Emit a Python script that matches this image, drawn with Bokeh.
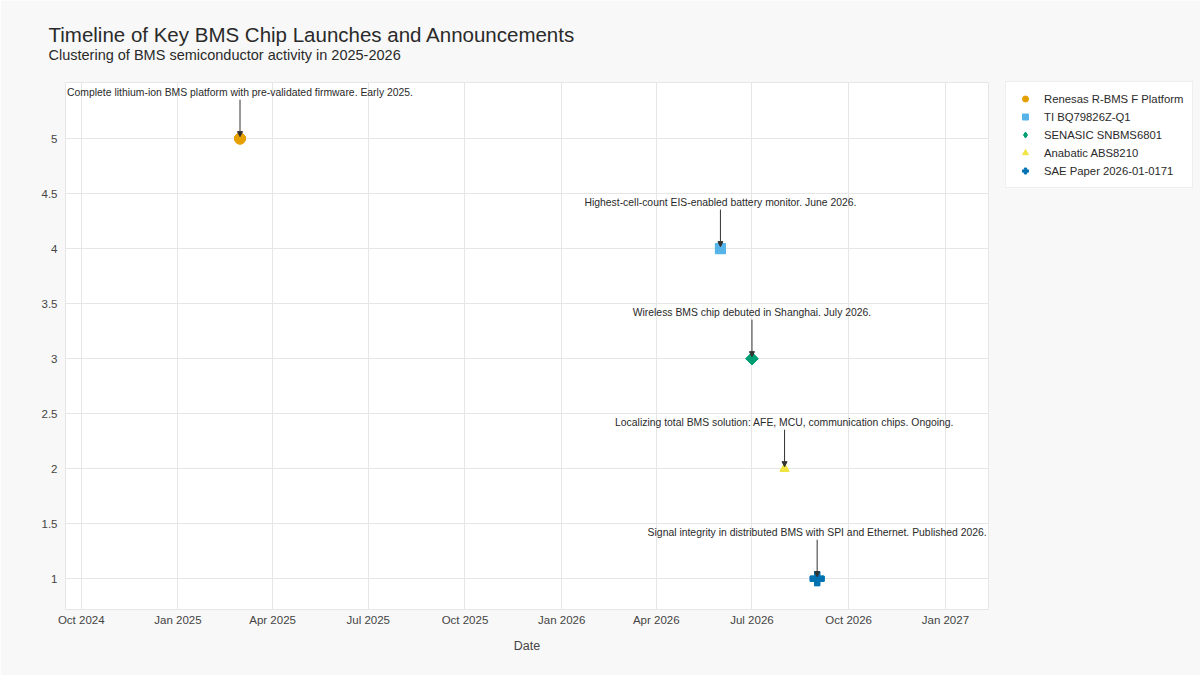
import math
import pandas as pd
from bokeh.plotting import figure
from bokeh.models import (Range1d, Title, Legend, LegendItem, Arrow, NormalHead,
                          DatetimeTickFormatter, MonthsTicker, FixedTicker,
                          NumeralTickFormatter, ColumnDataSource)
from bokeh.core.properties import value
from bokeh.embed import file_html
from bokeh.resources import INLINE

# ---- data ----
title_text = "Timeline of Key BMS Chip Launches and Announcements"
subtitle_text = "Clustering of BMS semiconductor activity in 2025-2026"
names = ["Renesas R-BMS F Platform", "TI BQ79826Z-Q1", "SENASIC SNBMS6801",
         "Anabatic ABS8210", "SAE Paper 2026-01-0171"]
dates = pd.to_datetime(["2025-03-01", "2026-06-01", "2026-07-01", "2026-08-01", "2026-09-01"])
levels = [5, 4, 3, 2, 1]
notes = ["Complete lithium-ion BMS platform with pre-validated firmware. Early 2025.",
         "Highest-cell-count EIS-enabled battery monitor. June 2026.",
         "Wireless BMS chip debuted in Shanghai. July 2026.",
         "Localizing total BMS solution: AFE, MCU, communication chips. Ongoing.",
         "Signal integrity in distributed BMS with SPI and Ethernet. Published 2026."]
markers = ["circle", "square", "square", "triangle", "plus"]
legend_markers = ["circle", "square", "diamond", "triangle", "plus"]
angles = [0, 0, math.pi / 4, 0, 0]
colors = ["#E69F00", "#56B4E9", "#009E73", "#F0E442", "#0072B2"]
sizes = [11, 10, 9, 9, 14]
legend_sizes = [11, 10, 12, 9, 14]
y_ticks = [1, 1.5, 2, 2.5, 3, 3.5, 4, 4.5, 5]

FONT = "Liberation Sans"
FRAME_W, FRAME_H = 923, 527
y0, y1 = 0.72, 5.51

p = figure(x_axis_type="datetime", frame_width=FRAME_W, frame_height=FRAME_H,
           x_range=Range1d(pd.Timestamp("2024-09-16"), pd.Timestamp("2027-02-11")),
           y_range=Range1d(y0, y1),
           output_backend="svg", toolbar_location=None,
           min_border_left=65, min_border_top=82, min_border_bottom=66, min_border_right=212)
p.title = None
p.background_fill_color = "white"
p.border_fill_color = "#f8f8f8"
p.outline_line_color = "#e6e6e6"

sub = Title(text=subtitle_text, align="left",
            text_font=FONT, text_font_size="14.5px", text_font_style="normal",
            text_color="#2a2a2a", offset=-17, standoff=40)
main = Title(text=title_text, align="left",
             text_font=FONT, text_font_size="20.5px", text_font_style="normal",
             text_color="#2a2a2a", offset=-17, standoff=-42)
p.add_layout(sub, "above")
p.add_layout(main, "above")

# axes
p.xaxis.ticker = MonthsTicker(months=[0, 3, 6, 9])
p.xaxis.formatter = DatetimeTickFormatter(months="%b %Y", days="%b %Y", years="%b %Y")
p.yaxis.ticker = FixedTicker(ticks=y_ticks)
p.yaxis.formatter = NumeralTickFormatter(format="0.[0]")
for ax in (p.xaxis, p.yaxis):
    ax.axis_line_color = None
    ax.major_tick_line_color = None
    ax.minor_tick_line_color = None
    ax.major_tick_out = 0
    ax.minor_tick_out = 0
    ax.major_label_text_font = FONT
    ax.major_label_text_font_size = "11.5px"
    ax.major_label_text_color = "#444444"
p.xaxis.axis_label = "Date"
p.xaxis.axis_label_text_font = FONT
p.xaxis.axis_label_text_font_size = "12.5px"
p.xaxis.axis_label_text_font_style = "normal"
p.xaxis.axis_label_text_color = "#444444"
p.xaxis.axis_label_standoff = 10
p.xaxis.major_label_standoff = 4
p.yaxis.major_label_standoff = 8
p.xgrid.grid_line_color = "#e6e6e6"
p.ygrid.grid_line_color = "#e6e6e6"
p.xgrid.ticker = p.xaxis.ticker
p.ygrid.ticker = p.yaxis.ticker

items = []
px_per_unit = FRAME_H / (y1 - y0)
for i in range(len(names)):
    src = ColumnDataSource(dict(x=[dates[i]], y=[levels[i]], t=[notes[i]], a=[angles[i]]))
    # legend-shaped marker (drawn underneath)
    r_leg = p.scatter("x", "y", source=src, marker=legend_markers[i], size=legend_sizes[i],
                      fill_color=colors[i], line_color=colors[i])
    # visible marker
    p.scatter("x", "y", source=src, marker=markers[i], size=sizes[i], angle="a",
              fill_color=colors[i], line_color=colors[i])
    items.append(LegendItem(label=names[i], renderers=[r_leg], index=0))
    p.text("x", "y", text="t", source=src, y_offset=-46, text_align="center",
           text_baseline="middle", text_font=value(FONT), text_font_size="10.4px",
           text_color="#2a2a2a")
    p.add_layout(Arrow(x_start=dates[i], y_start=levels[i] + 39 / px_per_unit,
                       x_end=dates[i], y_end=levels[i] + 2 / px_per_unit,
                       line_color="#333333", line_width=1,
                       end=NormalHead(size=5, fill_color="#333333", line_color="#333333")))

legend = Legend(items=items, location=(17, 421), margin=0,
                label_text_font=FONT, label_text_font_size="11.3px",
                label_text_color="#2a2a2a", glyph_height=15, glyph_width=20,
                label_height=15, spacing=3, padding=9, label_standoff=9,
                border_line_color="#dddddd", background_fill_color="white",
                background_fill_alpha=1)
p.add_layout(legend, "right")

open("out.html", "w").write(file_html(p, INLINE))
